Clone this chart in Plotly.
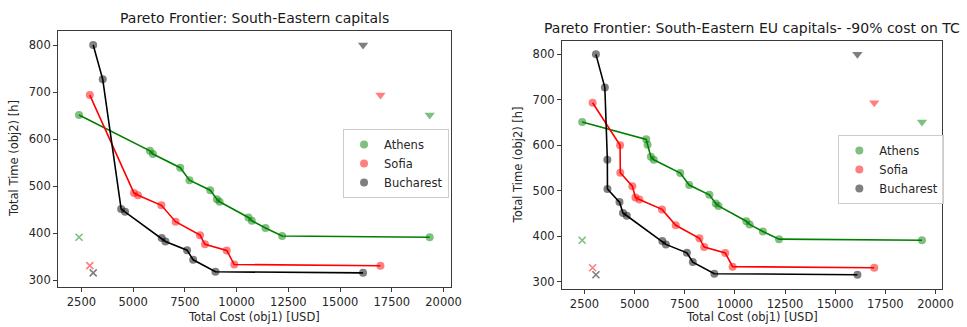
import plotly.graph_objects as go

# Pareto frontier points per capital: total cost [USD] and total time [h]
cities = ["Athens", "Sofia", "Bucharest"]
city_colors = {"Athens": "#008000", "Sofia": "#ff0000", "Bucharest": "#000000"}

# Baseline scenario
athens_cost = [2385, 5810, 5955, 7275, 7720, 8725, 9045, 9180, 10570, 10735, 11395, 12200, 19330]
athens_time = [651, 575, 568, 539, 512.5, 491, 472, 466.5, 433, 426, 410.5, 393.5, 391]
sofia_cost = [2905, 5040, 5235, 6365, 7050, 8230, 8470, 9520, 9885, 16950]
sofia_time = [693.5, 485, 480.5, 459, 424, 395.5, 376, 363, 333, 330.5]
bucharest_cost = [3070, 3530, 4420, 4610, 6380, 6560, 7605, 7900, 8975, 16110]
bucharest_time = [800, 727, 451, 445, 389.5, 382, 363.5, 343, 317.5, 315.2]

# Scenario with -90% cost on TC
athens_cost_tc = [2385, 5580, 5645, 5810, 5955, 7275, 7720, 8725, 9045, 9180, 10570, 10735, 11395, 12200, 19330]
athens_time_tc = [651, 613, 601, 575, 568, 539, 512.5, 491, 472, 466.5, 433, 426, 410.5, 393.5, 391]
sofia_cost_tc = [2905, 4275, 4285, 4885, 5040, 5235, 6365, 7050, 8230, 8470, 9520, 9885, 16950]
sofia_time_tc = [693.5, 600, 539.5, 510, 485, 480.5, 459, 424, 395.5, 376, 363, 333, 330.5]
bucharest_cost_tc = [3070, 3515, 3640, 3645, 4245, 4420, 4610, 6380, 6560, 7605, 7900, 8975, 16110]
bucharest_time_tc = [800, 727, 568, 504, 475, 451, 445, 389.5, 382, 363.5, 343, 317.5, 315.2]

panels = [
    {
        "title": "Pareto Frontier: South-Eastern capitals",
        "data": {
            "Athens": (athens_cost, athens_time),
            "Sofia": (sofia_cost, sofia_time),
            "Bucharest": (bucharest_cost, bucharest_time),
        },
    },
    {
        "title": "Pareto Frontier: South-Eastern EU capitals- -90% cost on TC",
        "data": {
            "Athens": (athens_cost_tc, athens_time_tc),
            "Sofia": (sofia_cost_tc, sofia_time_tc),
            "Bucharest": (bucharest_cost_tc, bucharest_time_tc),
        },
    },
]

x_ticks = [2500, 5000, 7500, 10000, 12500, 15000, 17500, 20000]
y_ticks = [300, 400, 500, 600, 700, 800]

W, H = 967, 327
# Plot-area frames in pixels: (left, right, top, bottom)
frames = [(58.7, 456.0, 30.7, 287.3), (568.3, 953.3, 40.5, 288.7)]
legend_pos = [(347, 129), (848, 135)]

FONT = "DejaVu Sans"
fig = go.Figure()

for i, panel in enumerate(panels):
    sfx = "" if i == 0 else str(i + 1)
    xa, ya = "x" + sfx, "y" + sfx
    leg = "legend" if i == 0 else "legend" + str(i + 1)
    for city in cities:
        cost, time = panel["data"][city]
        col = city_colors[city]
        # frontier points
        fig.add_trace(go.Scatter(
            x=cost, y=time, mode="markers", name=city, xaxis=xa, yaxis=ya,
            legend=leg, showlegend=True,
            marker=dict(size=8, color=col, opacity=0.5, line=dict(width=0)),
        ))
        # frontier line
        fig.add_trace(go.Scatter(
            x=cost, y=time, mode="lines", xaxis=xa, yaxis=ya, showlegend=False,
            line=dict(color=col, width=1.6), hoverinfo="skip",
        ))
        # nadir point (max cost, max time)
        fig.add_trace(go.Scatter(
            x=[max(cost)], y=[max(time)], mode="markers", xaxis=xa, yaxis=ya,
            showlegend=False,
            marker=dict(symbol="triangle-down", size=9, color=col, opacity=0.5, line=dict(width=0)),
        ))
        # utopia point (min cost, min time)
        fig.add_trace(go.Scatter(
            x=[min(cost)], y=[min(time)], mode="markers", xaxis=xa, yaxis=ya,
            showlegend=False,
            marker=dict(symbol="x-thin", size=7, color=col, opacity=0.5,
                        line=dict(width=1.6, color=col)),
        ))

layout = dict(
    width=W, height=H,
    margin=dict(l=0, r=0, t=0, b=0),
    paper_bgcolor="white", plot_bgcolor="white",
    font=dict(family=FONT, size=11.5, color="#262626"),
    showlegend=True,
)

annotations = []
for i, panel in enumerate(panels):
    sfx = "" if i == 0 else str(i + 1)
    l, r, t, b = frames[i]
    axis_common = dict(
        showgrid=False, zeroline=False, showline=True, mirror=True,
        linecolor="#3a3a3a", linewidth=1, ticks="outside", ticklen=4,
        tickwidth=1, tickcolor="#3a3a3a",
        tickfont=dict(family=FONT, size=11.5, color="#262626"),
    )
    layout["xaxis" + sfx] = dict(
        axis_common, domain=[l / W, r / W], range=[1370, 20350],
        tickvals=x_ticks, ticktext=[str(v) for v in x_ticks],
        anchor="y" + sfx,
    )
    layout["yaxis" + sfx] = dict(
        axis_common, domain=[1 - b / H, 1 - t / H], range=[284.5, 830.5],
        tickvals=y_ticks, ticktext=[str(v) for v in y_ticks],
        anchor="x" + sfx,
    )
    cx = (l + r) / 2
    annotations.append(dict(
        text=panel["title"], xref="paper", yref="paper",
        x=cx / W, y=1 - (t - 12.5) / H, xanchor="center", yanchor="middle",
        showarrow=False, font=dict(family=FONT, size=14, color="#1a1a1a"),
    ))
    annotations.append(dict(
        text="Total Cost (obj1) [USD]", xref="paper", yref="paper",
        x=cx / W, y=1 - 316.5 / H, xanchor="center", yanchor="middle",
        showarrow=False, font=dict(family=FONT, size=11.5, color="#262626"),
    ))
    annotations.append(dict(
        text="Total Time (obj2) [h]", xref="paper", yref="paper",
        x=(l - 44.5) / W, y=1 - ((t + b) / 2) / H, xanchor="center", yanchor="middle",
        textangle=-90, showarrow=False,
        font=dict(family=FONT, size=11.5, color="#262626"),
    ))
    lx, ly = legend_pos[i]
    layout["legend" if i == 0 else "legend" + str(i + 1)] = dict(
        x=lx / W, y=1 - ly / H, xanchor="left", yanchor="top",
        xref="paper", yref="paper",
        bgcolor="rgba(255,255,255,0.8)", bordercolor="#cccccc", borderwidth=1,
        font=dict(family=FONT, size=11.5, color="#262626"),
        tracegroupgap=0,
    )

layout["annotations"] = annotations
fig.update_layout(**layout)
fig.write_html("out.html")
